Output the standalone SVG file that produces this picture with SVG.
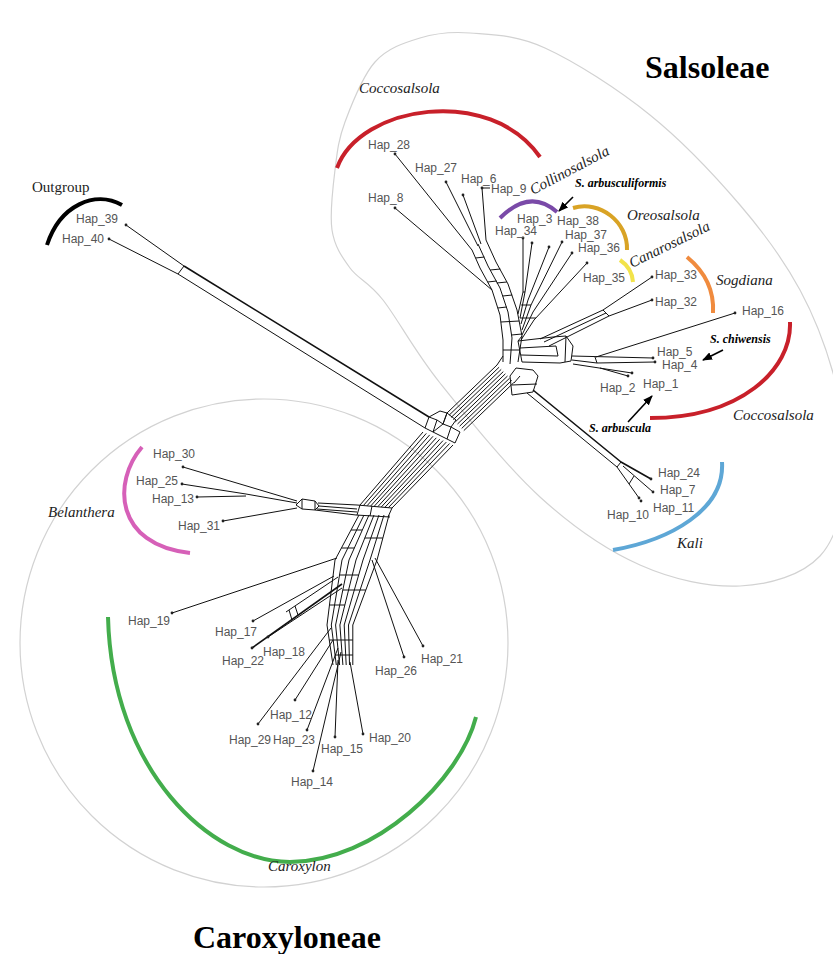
<svg xmlns="http://www.w3.org/2000/svg" width="833" height="954" viewBox="0 0 833 954">
<defs>
<style>
.hap{font-family:"Liberation Sans",Arial,sans-serif;font-size:12px;fill:#555}
.gen{font-family:"Liberation Serif","Times New Roman",serif;font-size:15px;font-style:italic;fill:#222}
.og{font-family:"Liberation Serif","Times New Roman",serif;font-size:15px;fill:#222}
.sp{font-family:"Liberation Serif","Times New Roman",serif;font-size:12px;font-style:italic;font-weight:bold;fill:#000}
.title{font-family:"Liberation Serif","Times New Roman",serif;font-size:32px;font-weight:bold;fill:#000}
.net{fill:none;stroke:#111;stroke-width:1;stroke-linejoin:round}
.bold{stroke-width:1.6}
.hull{fill:none;stroke:#d2d2d2;stroke-width:1.2}
.arc{fill:none;stroke-width:4}
.dot{fill:#222}
.arr{fill:none;stroke:#000;stroke-width:1.6}
</style>
<marker id="ah" viewBox="0 0 10 8" refX="9" refY="4" markerWidth="10" markerHeight="8" markerUnits="userSpaceOnUse" orient="auto"><path d="M0,0 L10,4 L0,8 Z" fill="#000"/></marker>
</defs>
<rect width="833" height="954" fill="#fff"/>

<g id="hulls">
<path class="hull" d="M332,230 C329.5,213.7 332.8,188 335,170 S338.3,140 345,122 S362.5,76 375,62 S404.2,42.8 420,38 S449.2,31.3 470,33 S515,34.3 545,48 S617.5,88.8 650,115 S715,175.8 740,205 S784.2,260.8 800,290 S827,350 835,380 S850.5,440.7 848,470 S838,536.7 820,556 S770,584.5 740,586 S673.3,579.8 640,565 S573.3,527.3 540,497 S466.2,415.8 440,383 S398,319.2 383,300 S358.5,279.7 350,268 S334.5,246.3 332,230 Z"/>
<circle class="hull" cx="264" cy="643" r="244"/>
</g>

<g id="clade-arcs">
<path class="arc" stroke="#c8202a" d="M337,168 C360,105 490,85 540,157"/>
<path class="arc" stroke="#7a4aa8" d="M500,218 Q530,188 557,212"/>
<path class="arc" stroke="#d9a325" d="M573,208 C600,200 628,222 627,250"/>
<path class="arc" stroke="#f2e34a" d="M620,260 Q632,268 633,282"/>
<path class="arc" stroke="#f08b3e" d="M687,257 Q715,280 713,313"/>
<path class="arc" stroke="#c8202a" d="M790,322 C792,370 740,418 650,418"/>
<path class="arc" stroke="#5ea7d6" d="M722,462 C725,510 670,540 613,550"/>
<path class="arc" stroke="#000" d="M47,245 C60,205 95,190 122,205"/>
<path class="arc" stroke="#d660b8" d="M142,447 C112,482 115,545 190,553"/>
<path class="arc" stroke="#43ad4c" d="M108,617 C112,770 210,862 290,862 C375,862 460,780 476,717"/>
</g>

<g id="connectors">
<!-- outgroup -->
<path class="net" d="M126,225 L184,266 M109,239 L178,274 M184,266 L178,274"/>
<path class="net bold" d="M184,266 L429,417"/>
<path class="net" d="M178,274 L425,428"/>
<!-- central box cells -->
<path class="net" d="M425,428 L429,417 L437,420 L433,432 Z M429,417 L440,411 L447,413 L443,424 L437,420 M433,432 L443,424 L451,427 L447,439 Z M443,424 L447,413 L456,420 L451,427 M447,439 L455,443 L460,432 L451,427"/>
<!-- upper trunk -->
<path class="net" d="M447,413 L497,365 M449.1,415.2 L499.1,367.2 M451.2,417.4 L501.2,369.4 M453.3,419.6 L503.3,371.6 M455.4,421.8 L505.4,373.8 M457.5,424 L507.5,376 M459.6,426.2 L509.6,378.2 M461.7,428.4 L511.7,380.4 M463.8,430.6 L513.8,382.6"/>
<!-- lower trunk -->
<path class="net" d="M423,432 L360,505 M426.3,433.4 L363.6,505.3 M429.7,434.9 L367.1,505.7 M433,436.3 L370.7,506 M436.3,437.8 L374.2,506.3 M439.7,439.2 L377.8,506.7 M443,440.6 L381.3,507 M446.3,442.1 L384.9,507.3 M449.6,443.5 L388.4,507.6 M453,445 L392,508"/>
<path class="net" d="M357,505 L392,508 M356,515 L390,517 M360,505 L357,515 M372,506 L370,516 M392,508 L388,517"/>
<!-- Belanthera -->
<path class="net" d="M183,467 L297,501 M182,484 L246,494 L297,503 M197,497 L246,496 M223,521 L297,508"/>
<path class="net" d="M296,505 L302,499 L315,501 L319,506 L315,510 L302,509 Z M302,499 L302,509 M315,501 L315,510"/>
<path class="net" d="M318,503 L357,505 M319,506 L357,509 M317,509 L357,512 M315,510 L356,515"/>
<!-- Caroxylon column -->
<path class="net" d="M359,515 L335,560 L327,625 L333,665 M364,515 L342,560 L331.3,625 L336.3,665 M369,515 L349,560 L335.6,625 L339.6,665 M374,515 L356,560 L339.9,625 L342.9,665 M379,515 L363,560 L344.2,625 L346.2,665 M384,515 L370,560 L348.5,625 L349.5,665 M389,515 L377,560 L352.8,625 L352.8,665"/>
<path class="net" d="M351,530 L362,530 M364.8,538 L382.9,538 M341.4,548 L354.3,548 M339.5,575 L358.7,575 M342.8,590 L365.8,590 M329.5,605 L344.9,605 M329.3,640 L352.8,640 M335,655 L352.8,655"/>
<path class="net" d="M172,613 L337,558 M253,621 L334,576"/>
<path class="net bold" d="M252,648 L342,584"/>
<path class="net" d="M268,637 L342,588 M286,612 L338,577 M289,610 L292,620 M295,606 L298,615"/>
<path class="net" d="M404,657 L372,560 M423,646 L375,558"/>
<path class="net" d="M258,724 L331,628 M295,700 L333,640 M307,730 L338,648 M313,771 L341,652 M335,737 L338,660 M363,734 L350,662"/>
<!-- upper junction -->
<path class="net" d="M510,376 L516,368 L533,370 L538,376 L533,392 L512,395 Z M512,385 L537,384 M497,365 L503,356 M514,383 L520,376"/>
<!-- Kali -->
<path class="net" d="M527,393 L617,467 L639,498"/>
<path class="net bold" d="M533,390 L621,462 L651,479"/>
<path class="net" d="M623,466 L653,492 M617,467 L621,462 M629,484 L634,476"/>
<!-- right branch -->
<path class="net" d="M518,341 L553,337 M520,348 L556,346 M521,355 L558,356 M522,362 L560,363 M518,341 L522,362 M522,336 L518,341"/>
<path class="net" d="M553,337 L566,336 L573,346 L571,361 L560,363 M556,346 L558,356 M566,336 L565,362"/>
<path class="net" d="M572,356 L653,358 M572,360 L597,363 L655,362 M595,357 L597,363 M596,357 L735,313 M573,364 L632,373 M600,368 L628,376"/>
<path class="net" d="M540,339 L603,310 L652,277 M544,342 L606,313 M549,346 L609,316 L652,300 M603,310 L609,316"/>
<!-- ladder -->
<path class="net" d="M472,250 L480,268 L492,290 L500,315 L503,340 L503,362 M478,244 L488,266 L500,288 L508,312 L512,338 L510,364 M486,240 L496,262 L508,284 L517,310 L522,336 L518,362"/>
<path class="net" d="M475.6,258 L484.4,257 M490.2,270 L500.4,269 M487.6,282 L496.7,281 M496.7,283 L506.9,282 M502.7,296 L512.2,295 M497.8,308 L506.7,307 M500.8,322 L519.3,321 M511.5,335 L521.8,334 M503,350 L519.8,350"/>
<path class="net" d="M395,154 L472,250 M446,182 L478,246 M463,195 L481,244 M482,188 L486,240 M482,188 L490,188 M395,208 L492,290"/>
<!-- upper right cluster -->
<path class="net" d="M523,238 L523,292 L518,314 M532,243 L525,292 L520,318 M549,247 L528,300 L521,324 M562,242 L531,305 L522,330 M572,253 L533,312 L522,335 M587,263 L534,320 L521,340"/>
<path class="net" d="M521.2,305 L531,305 M520,318 L535.9,318 M523,292 L525,292"/>
<!-- species arrows -->
<path class="arr" marker-end="url(#ah)" d="M573,197 L559,211"/>
<path class="arr" marker-end="url(#ah)" d="M723,350 L703,360"/>
<path class="arr" marker-end="url(#ah)" d="M628,422 L652,396"/>
</g>

<g id="hap28"><circle class="dot" cx="395" cy="154" r="1.4"/><text class="hap" x="368" y="149">Hap_28</text></g>
<g id="hap27"><circle class="dot" cx="446" cy="182" r="1.4"/><text class="hap" x="415" y="172">Hap_27</text></g>
<g id="hap6"><circle class="dot" cx="463" cy="195" r="1.4"/><text class="hap" x="461" y="183">Hap_6</text></g>
<g id="hap9"><circle class="dot" cx="482" cy="188" r="1.4"/><text class="hap" x="491" y="193">Hap_9</text></g>
<g id="hap8"><circle class="dot" cx="395" cy="208" r="1.4"/><text class="hap" x="368" y="202">Hap_8</text></g>
<g id="hap34"><circle class="dot" cx="523" cy="238" r="1.4"/><text class="hap" x="495" y="235">Hap_34</text></g>
<g id="hap3"><circle class="dot" cx="532" cy="243" r="1.4"/><text class="hap" x="517" y="223">Hap_3</text></g>
<g id="hap38"><circle class="dot" cx="549" cy="247" r="1.4"/><text class="hap" x="557" y="225">Hap_38</text></g>
<g id="hap37"><circle class="dot" cx="562" cy="242" r="1.4"/><text class="hap" x="565" y="238.5">Hap_37</text></g>
<g id="hap36"><circle class="dot" cx="572" cy="253" r="1.4"/><text class="hap" x="578" y="252">Hap_36</text></g>
<g id="hap35"><circle class="dot" cx="587" cy="263" r="1.4"/><text class="hap" x="583" y="282">Hap_35</text></g>
<g id="hap33"><circle class="dot" cx="652" cy="277" r="1.4"/><text class="hap" x="655" y="279">Hap_33</text></g>
<g id="hap32"><circle class="dot" cx="652" cy="300" r="1.4"/><text class="hap" x="655" y="306">Hap_32</text></g>
<g id="hap16"><circle class="dot" cx="735" cy="313" r="1.4"/><text class="hap" x="742" y="315">Hap_16</text></g>
<g id="hap5"><circle class="dot" cx="653" cy="358" r="1.4"/><text class="hap" x="657" y="356">Hap_5</text></g>
<g id="hap4"><circle class="dot" cx="655" cy="362" r="1.4"/><text class="hap" x="662" y="369">Hap_4</text></g>
<g id="hap1"><circle class="dot" cx="632" cy="373" r="1.4"/><text class="hap" x="643" y="388">Hap_1</text></g>
<g id="hap2"><circle class="dot" cx="628" cy="376" r="1.4"/><text class="hap" x="600" y="392">Hap_2</text></g>
<g id="hap24"><circle class="dot" cx="651" cy="479" r="1.4"/><text class="hap" x="658" y="477">Hap_24</text></g>
<g id="hap7"><circle class="dot" cx="653" cy="492" r="1.4"/><text class="hap" x="660" y="494">Hap_7</text></g>
<g id="hap11"><circle class="dot" cx="641" cy="501" r="1.4"/><text class="hap" x="653" y="512">Hap_11</text></g>
<g id="hap10"><circle class="dot" cx="639" cy="498" r="1.4"/><text class="hap" x="607" y="519">Hap_10</text></g>
<g id="hap39"><circle class="dot" cx="126" cy="225" r="1.4"/><text class="hap" x="76" y="223">Hap_39</text></g>
<g id="hap40"><circle class="dot" cx="109" cy="239" r="1.4"/><text class="hap" x="62" y="243">Hap_40</text></g>
<g id="hap30"><circle class="dot" cx="183" cy="467" r="1.4"/><text class="hap" x="153" y="458">Hap_30</text></g>
<g id="hap25"><circle class="dot" cx="182" cy="484" r="1.4"/><text class="hap" x="136" y="485">Hap_25</text></g>
<g id="hap13"><circle class="dot" cx="197" cy="497" r="1.4"/><text class="hap" x="152" y="503">Hap_13</text></g>
<g id="hap31"><circle class="dot" cx="223" cy="521" r="1.4"/><text class="hap" x="178" y="530">Hap_31</text></g>
<g id="hap19"><circle class="dot" cx="172" cy="613" r="1.4"/><text class="hap" x="128" y="625">Hap_19</text></g>
<g id="hap17"><circle class="dot" cx="253" cy="621" r="1.4"/><text class="hap" x="215" y="636">Hap_17</text></g>
<g id="hap22"><circle class="dot" cx="252" cy="648" r="1.4"/><text class="hap" x="222" y="665">Hap_22</text></g>
<g id="hap18"><circle class="dot" cx="268" cy="637" r="1.4"/><text class="hap" x="263" y="656">Hap_18</text></g>
<g id="hap26"><circle class="dot" cx="404" cy="657" r="1.4"/><text class="hap" x="375" y="675">Hap_26</text></g>
<g id="hap21"><circle class="dot" cx="423" cy="646" r="1.4"/><text class="hap" x="421" y="663">Hap_21</text></g>
<g id="hap12"><circle class="dot" cx="295" cy="700" r="1.4"/><text class="hap" x="270" y="719">Hap_12</text></g>
<g id="hap29"><circle class="dot" cx="258" cy="724" r="1.4"/><text class="hap" x="229" y="744">Hap_29</text></g>
<g id="hap23"><circle class="dot" cx="307" cy="730" r="1.4"/><text class="hap" x="273" y="744">Hap_23</text></g>
<g id="hap15"><circle class="dot" cx="335" cy="737" r="1.4"/><text class="hap" x="321" y="753">Hap_15</text></g>
<g id="hap20"><circle class="dot" cx="363" cy="734" r="1.4"/><text class="hap" x="369" y="742">Hap_20</text></g>
<g id="hap14"><circle class="dot" cx="313" cy="771" r="1.4"/><text class="hap" x="291" y="786">Hap_14</text></g>

<g id="labels">
<text class="gen" x="359" y="93">Coccosalsola</text>
<text class="gen" x="533" y="195" transform="rotate(-28 533 195)">Collinosalsola</text>
<text class="gen" x="627" y="220">Oreosalsola</text>
<text class="gen" x="632" y="268" transform="rotate(-26 632 268)">Canarosalsola</text>
<text class="gen" x="716" y="285">Sogdiana</text>
<text class="gen" x="733" y="420">Coccosalsola</text>
<text class="gen" x="677" y="548">Kali</text>
<text class="gen" x="48" y="517">Belanthera</text>
<text class="gen" x="268" y="871">Caroxylon</text>
<text class="og" x="32" y="192">Outgroup</text>
<text class="sp" x="575" y="187">S. arbusculiformis</text>
<text class="sp" x="710" y="343">S. chiwensis</text>
<text class="sp" x="589" y="432">S. arbuscula</text>
<text class="title" x="645" y="78">Salsoleae</text>
<text class="title" x="193" y="948">Caroxyloneae</text>
</g>
</svg>
